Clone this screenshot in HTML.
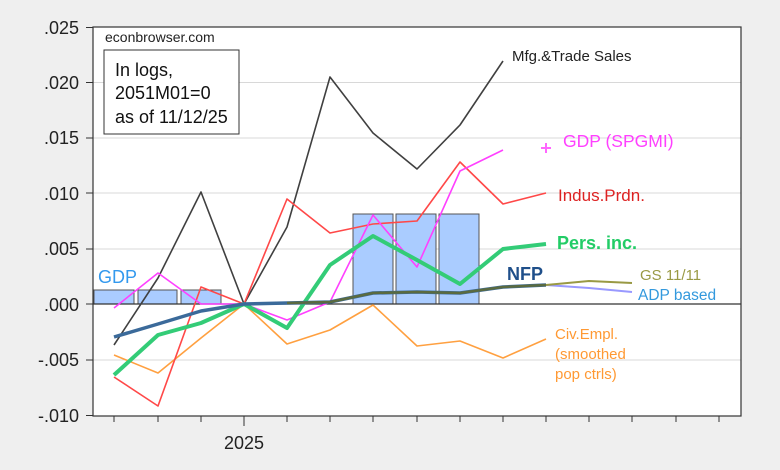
<!DOCTYPE html>
<html><head><style>body{margin:0;background:#efefef}svg{display:block}</style></head><body>
<svg width="780" height="470" xmlns="http://www.w3.org/2000/svg" font-family="Liberation Sans, Arial, sans-serif">
<rect width="780" height="470" fill="#efefef"/>
<rect x="93" y="27" width="648" height="389" fill="#fff"/>
<g stroke="#d8d8d8" stroke-width="1">
<line x1="93" x2="741" y1="82.5" y2="82.5"/><line x1="93" x2="741" y1="138" y2="138"/><line x1="93" x2="741" y1="193" y2="193"/><line x1="93" x2="741" y1="249" y2="249"/><line x1="93" x2="741" y1="360" y2="360"/>
</g>
<g fill="#aaccff" stroke="#555" stroke-width="1">
<rect x="94" y="290" width="40" height="14"/><rect x="138" y="290" width="39" height="14"/><rect x="181" y="290" width="40" height="14"/>
<rect x="353" y="214" width="40" height="90"/><rect x="396" y="214" width="40" height="90"/><rect x="439" y="214" width="40" height="90"/>
</g>
<line x1="93" x2="741" y1="304" y2="304" stroke="#333" stroke-width="1.2"/>
<g fill="none" stroke-linejoin="round">
<polyline stroke="#ffa040" stroke-width="1.6" points="114,355 158,373 201,338 244,304 287,344 330,330 373,305 417,346 460,341 503,358 546,339"/>
<polyline stroke="#404040" stroke-width="1.6" points="114,345 158,278 201,192 244,304 287,227 330,77 373,133 417,169 460,125 503,61"/>
<polyline stroke="#ff4848" stroke-width="1.6" points="114,377 158,406 201,287 244,304 287,199 330,233 373,224 417,221 460,162 503,204 546,193"/>
<polyline stroke="#ff40ff" stroke-width="1.6" points="114,308 158,273 201,304 244,304 287,320 330,302 373,215 417,267 460,171 503,150"/>
<polyline stroke="#33cc77" stroke-width="4" points="114,375 158,335 201,323 244,304 287,328 330,265 373,236 417,260 460,284 503,249 546,244"/>
<polyline stroke="#9999ff" stroke-width="2" points="546,285 589,288 632,292"/>
<polyline stroke="#999944" stroke-width="2" points="546,285 589,281 632,283"/>
<polyline stroke="#3b6a9a" stroke-width="3.5" points="114,337 158,324 201,311 244,304 287,303 330,302 373,293 417,292 460,293 503,287 546,285"/>
<polyline stroke="#5a6a40" stroke-width="2.5" points="287,303 330,302 373,293 417,292 460,293 503,287 546,285"/>
</g>
<g stroke="#ff66ff" stroke-width="2"><line x1="541" x2="551" y1="148" y2="148"/><line x1="546" x2="546" y1="143" y2="153"/></g>
<rect x="93" y="27" width="648" height="389" fill="none" stroke="#333" stroke-width="1.2"/>
<g stroke="#333" stroke-width="1">
<line x1="86" x2="93" y1="27.5" y2="27.5"/><line x1="86" x2="93" y1="82.5" y2="82.5"/><line x1="86" x2="93" y1="138" y2="138"/><line x1="86" x2="93" y1="193" y2="193"/><line x1="86" x2="93" y1="249" y2="249"/><line x1="86" x2="93" y1="304" y2="304"/><line x1="86" x2="93" y1="360" y2="360"/><line x1="86" x2="93" y1="415.5" y2="415.5"/>
<line x1="114" x2="114" y1="416" y2="422"/><line x1="158" x2="158" y1="416" y2="422"/><line x1="201" x2="201" y1="416" y2="422"/><line x1="244" x2="244" y1="416" y2="426"/><line x1="287" x2="287" y1="416" y2="422"/><line x1="330" x2="330" y1="416" y2="422"/><line x1="373" x2="373" y1="416" y2="422"/><line x1="417" x2="417" y1="416" y2="422"/><line x1="460" x2="460" y1="416" y2="422"/><line x1="503" x2="503" y1="416" y2="422"/><line x1="546" x2="546" y1="416" y2="422"/><line x1="589" x2="589" y1="416" y2="422"/><line x1="632" x2="632" y1="416" y2="422"/><line x1="676" x2="676" y1="416" y2="422"/><line x1="719" x2="719" y1="416" y2="422"/>
</g>
<g font-size="18" fill="#222" text-anchor="end">
<text x="79" y="34">.025</text><text x="79" y="89">.020</text><text x="79" y="144">.015</text><text x="79" y="200">.010</text><text x="79" y="255">.005</text><text x="79" y="311">.000</text><text x="79" y="366">-.005</text><text x="79" y="422">-.010</text>
</g>
<text x="244" y="449" font-size="18" fill="#222" text-anchor="middle">2025</text>
<text x="105" y="42" font-size="14" fill="#222">econbrowser.com</text>
<rect x="104" y="50" width="135" height="84" fill="#fff" stroke="#333" stroke-width="1"/>
<g font-size="18" fill="#111"><text x="115" y="76">In logs,</text><text x="115" y="99">2051M01=0</text><text x="115" y="123">as of 11/12/25</text></g>
<text x="512" y="61" font-size="15" fill="#222">Mfg.&amp;Trade Sales</text>
<text x="563" y="147" font-size="17.5" fill="#ff40ff">GDP (SPGMI)</text>
<text x="558" y="201" font-size="17" fill="#dd2222">Indus.Prdn.</text>
<text x="557" y="249" font-size="18" font-weight="bold" fill="#22cc66">Pers. inc.</text>
<text x="507" y="280" font-size="18" font-weight="bold" fill="#1f4f8a">NFP</text>
<text x="640" y="280" font-size="15" fill="#999944">GS 11/11</text>
<text x="638" y="300" font-size="15.5" fill="#3399dd">ADP based</text>
<g font-size="15" fill="#ff9933"><text x="555" y="339">Civ.Empl.</text><text x="555" y="359">(smoothed</text><text x="555" y="379">pop ctrls)</text></g>
<text x="98" y="283" font-size="18" fill="#3399ee">GDP</text>
</svg>
</body></html>
